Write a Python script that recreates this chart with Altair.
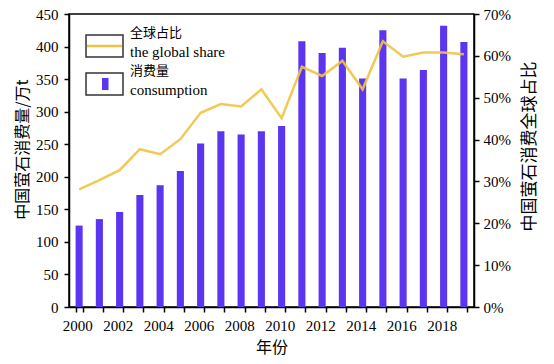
import altair as alt
import pandas as pd

years = list(range(2000, 2020))
consumption = [125, 135, 146, 172, 187, 209, 251, 270, 265, 270,
               278, 408, 390, 398, 351, 425, 351, 364, 432, 407]
share_pct = [28.1, 30.3, 32.7, 37.7, 36.5, 40.1, 46.4, 48.5, 47.9, 52.0,
             45.1, 57.4, 55.2, 58.8, 52.0, 63.5, 59.8, 60.8, 60.8, 60.4]
left_ticks = [0, 50, 100, 150, 200, 250, 300, 350, 400, 450]
right_ticks = [0, 0.1, 0.2, 0.3, 0.4, 0.5, 0.6, 0.7]

df = pd.DataFrame({"year": years, "consumption": consumption,
                   "share": [v / 100 for v in share_pct]})

SERIF = "Liberation Serif"
CJK = "Noto Sans CJK SC"
BAR = "#5b35ef"
LINE = "#f0c443"

x = alt.X("year:O", title="年份",
          scale=alt.Scale(paddingInner=0.65),
          axis=alt.Axis(labelAngle=0, tickBand="extent", labelOffset=-2,
                        labelExpr="datum.value % 2 == 0 ? datum.value : ''",
                        labelPadding=6, titlePadding=6))

bars = alt.Chart(df).mark_bar(color=BAR).encode(
    x=x,
    y=alt.Y("consumption:Q", title="中国萤石消费量/万t",
            scale=alt.Scale(domain=[0, 450], nice=False),
            axis=alt.Axis(values=left_ticks, labelPadding=6, titlePadding=5,
                          titleY=135)),
)

line = alt.Chart(df).mark_line(color=LINE, strokeWidth=2.5, opacity=0.9).encode(
    x=x,
    y=alt.Y("share:Q", title="中国萤石消费全球占比",
            scale=alt.Scale(domain=[0, 0.7], nice=False),
            axis=alt.Axis(orient="right", values=right_ticks, format=".0%",
                          labelPadding=4, titlePadding=28, titleAngle=270,
                          titleFontSize=17, titleY=132)),
)

one = pd.DataFrame({"a": [0]})
box1 = alt.Chart(one).mark_rect(fill="white", stroke="#333333", strokeWidth=1.5).encode(
    x=alt.value(17), x2=alt.value(54), y=alt.value(21), y2=alt.value(43))
box2 = alt.Chart(one).mark_rect(fill="white", stroke="#333333", strokeWidth=1.5).encode(
    x=alt.value(17), x2=alt.value(54), y=alt.value(59), y2=alt.value(81))
legline = alt.Chart(one).mark_rule(color=LINE, strokeWidth=2.5).encode(
    x=alt.value(18), x2=alt.value(53), y=alt.value(32))
legbar = alt.Chart(one).mark_rect(color=BAR).encode(
    x=alt.value(33), x2=alt.value(39.5), y=alt.value(64), y2=alt.value(76))

def txt(s, yy, font, size, baseline):
    return alt.Chart(one).mark_text(text=s, align="left", baseline=baseline,
                                    font=font, fontSize=size, color="black").encode(
        x=alt.value(61), y=alt.value(yy))

legend = [box1, box2, legline, legbar,
          txt("全球占比", 19, CJK, 13, "middle"),
          txt("the global share", 43, SERIF, 15, "alphabetic"),
          txt("消费量", 57, CJK, 13, "middle"),
          txt("consumption", 81, SERIF, 15, "alphabetic")]

chart = alt.layer(bars, line, *legend).resolve_scale(y="independent").properties(
    width=405, height=293,
    padding={"left": 61, "top": 6, "right": 72, "bottom": 56},
    autosize=alt.AutoSizeParams(type="none"),
).configure_view(stroke="black", strokeWidth=1.5).configure_axis(
    domainColor="black", domainWidth=1.5, tickColor="black", tickWidth=1.5,
    tickSize=5, grid=False, labelFont=SERIF, labelFontSize=15, labelColor="black",
    titleFont=CJK, titleFontSize=16, titleFontWeight="normal", titleColor="black",
)

chart.save("out.html", embed_options={"renderer": "svg", "actions": False})
